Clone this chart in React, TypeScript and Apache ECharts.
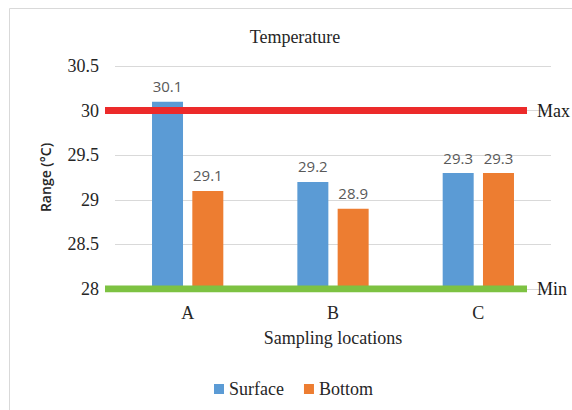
import React, { useEffect, useRef } from "react";
import * as echarts from "echarts";

const categories = ["A", "B", "C"];
const surface = [30.1, 29.2, 29.3];
const bottom = [29.1, 28.9, 29.3];
const maxValue = 30;
const minValue = 28;
const yMin = 28;
const yMax = 30.5;
const yStep = 0.5;

const SERIF = "Liberation Serif";
const SANS = "Open Sans";

export default function App() {
  const ref = useRef<HTMLDivElement>(null);
  useEffect(() => {
    if (!ref.current) return;
    const chart = echarts.init(ref.current, undefined, { renderer: "svg" });
    const barLabel = {
      show: true,
      position: "top",
      distance: 8,
      fontFamily: SANS,
      fontSize: 15,
      color: "#595959",
    };
    chart.setOption({
      animation: false,
      backgroundColor: "#ffffff",
      textStyle: { fontFamily: SERIF },
      title: {
        text: "Temperature",
        left: 290,
        top: 23,
        textAlign: "center",
        textStyle: { fontFamily: SERIF, fontSize: 18, fontWeight: "normal", color: "#262626" },
      },
      graphic: [
        {
          type: "rect",
          shape: { x: 9.5, y: 8.5, width: 620, height: 460 },
          style: { fill: "none", stroke: "#d9d9d9", lineWidth: 1 },
          silent: true,
        },
      ],
      legend: {
        data: ["Surface", "Bottom"],
        top: 375,
        left: 209,
        icon: "rect",
        itemWidth: 10,
        itemHeight: 10,
        itemGap: 20,
        textStyle: { fontFamily: SERIF, fontSize: 18, color: "#262626" },
      },
      grid: [
        { left: 115, right: 21, top: 66, bottom: 121 },
        { left: 105, right: 45, top: 66, bottom: 121 },
      ],
      xAxis: [
        {
          type: "category",
          gridIndex: 0,
          data: categories,
          axisLine: { show: false },
          axisTick: { show: false },
          axisLabel: { fontFamily: SERIF, fontSize: 18, color: "#262626", margin: 15 },
          name: "Sampling locations",
          nameLocation: "middle",
          nameGap: 40,
          nameTextStyle: { fontFamily: SERIF, fontSize: 18, color: "#262626" },
        },
        {
          type: "value",
          gridIndex: 1,
          min: 0,
          max: 1,
          show: false,
        },
      ],
      yAxis: [
        {
          type: "value",
          gridIndex: 0,
          min: yMin,
          max: yMax,
          interval: yStep,
          axisLine: { show: false },
          axisTick: { show: false },
          splitLine: { lineStyle: { color: "#d9d9d9", width: 1 } },
          axisLabel: { fontFamily: SERIF, fontSize: 18, color: "#262626", margin: 16 },
          name: "Range (°C)",
          nameLocation: "middle",
          nameGap: 63,
          nameTextStyle: { fontFamily: SANS, fontSize: 14, fontWeight: 600, color: "#262626" },
        },
        {
          type: "value",
          gridIndex: 1,
          min: yMin,
          max: yMax,
          show: false,
        },
      ],
      series: [
        {
          name: "Surface",
          type: "bar",
          xAxisIndex: 0,
          yAxisIndex: 0,
          data: surface,
          barWidth: 31,
          barGap: "30%",
          itemStyle: { color: "#5B9BD5" },
          label: barLabel,
        },
        {
          name: "Bottom",
          type: "bar",
          xAxisIndex: 0,
          yAxisIndex: 0,
          data: bottom,
          barWidth: 31,
          barGap: "30%",
          itemStyle: { color: "#ED7D31" },
          label: barLabel,
        },
        {
          name: "Max",
          type: "line",
          xAxisIndex: 1,
          yAxisIndex: 1,
          data: [[0, maxValue], [1, maxValue]],
          symbol: "none",
          lineStyle: { color: "#EC2A2A", width: 7, cap: "butt" },
          endLabel: {
            show: true,
            formatter: "Max",
            distance: 10,
            fontFamily: SERIF,
            fontSize: 18,
            color: "#1a1a1a",
          },
          z: 5,
        },
        {
          name: "Min",
          type: "line",
          xAxisIndex: 1,
          yAxisIndex: 1,
          data: [[0, minValue], [1, minValue]],
          symbol: "none",
          lineStyle: { color: "#7DC242", width: 7, cap: "butt" },
          endLabel: {
            show: true,
            formatter: "Min",
            distance: 10,
            fontFamily: SERIF,
            fontSize: 18,
            color: "#1a1a1a",
          },
          z: 5,
        },
      ],
    });
    return () => chart.dispose();
  }, []);
  return (
    <div
      ref={ref}
      style={{ position: "fixed", left: 0, top: 0, width: 572, height: 410, background: "#fff" }}
    />
  );
}
